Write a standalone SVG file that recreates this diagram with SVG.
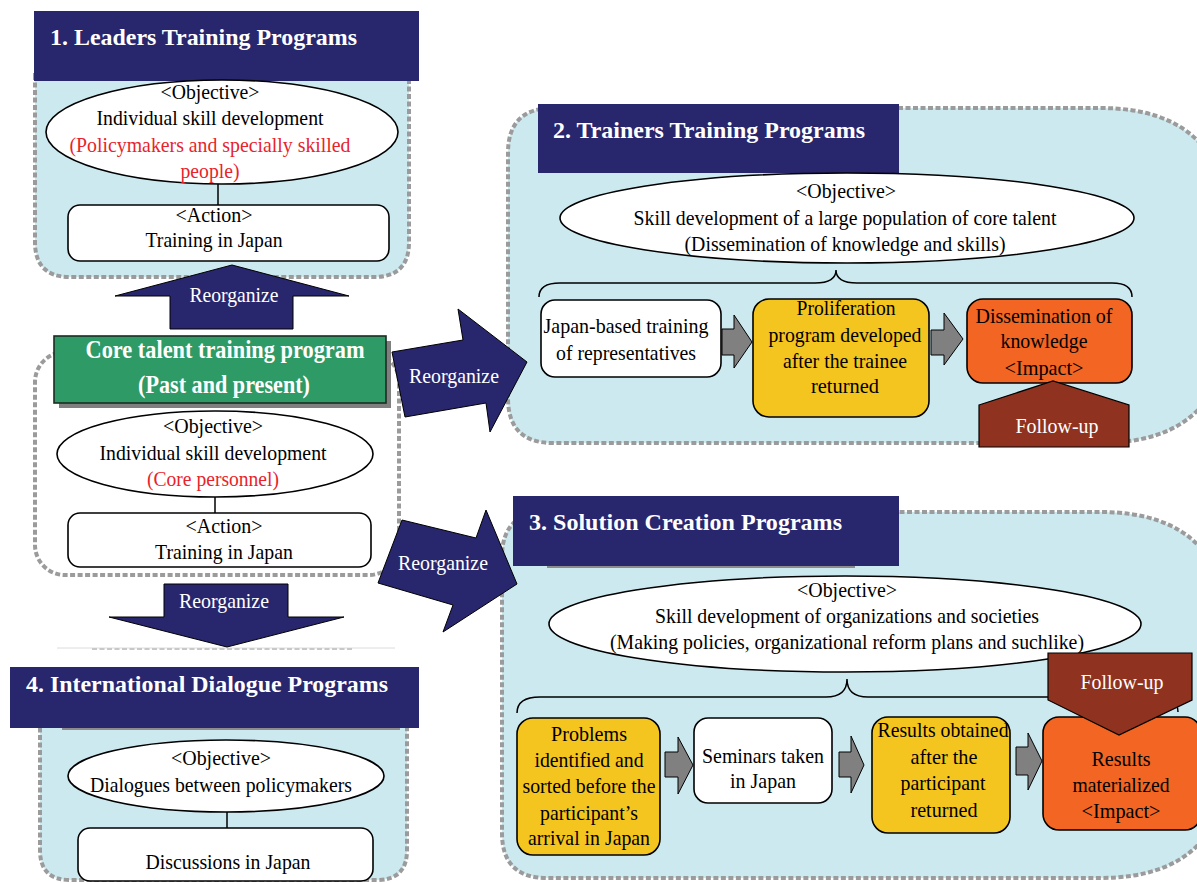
<svg xmlns="http://www.w3.org/2000/svg" width="1197" height="883" viewBox="0 0 1197 883">
<style>
.t{font-family:"Liberation Serif","Times New Roman",serif;font-size:21px;fill:#000;text-anchor:middle}
.red{fill:#e8232b}
.wt{fill:#fff}
.h{font-family:"Liberation Serif","Times New Roman",serif;font-weight:bold;font-size:23px;fill:#fff}
.navy{fill:#28266d}
.panel{fill:#cde9f0;stroke:#9b9b9b;stroke-width:4;stroke-dasharray:5 2.5}
.dash{fill:none;stroke:#9b9b9b;stroke-width:4;stroke-dasharray:5 2.5}
.obj{fill:#fff;stroke:#000;stroke-width:1.6}
.yel{fill:#f5c51f;stroke:#000;stroke-width:1.6}
.org{fill:#f26522;stroke:#000;stroke-width:1.6}
.fu{fill:#8f3220;stroke:#000;stroke-width:1.2}
.ga{fill:#808080;stroke:#000;stroke-width:1}
.ra{fill:#28266d;stroke:#000;stroke-width:1}
.ln{stroke:#000;stroke-width:1.5;fill:none}
</style>

<!-- Panels -->
<g id="panels">
  <path class="panel" d="M35,75 V242 Q35,277 70,277 H374 Q409,277 409,242 V75 Z"/>
  <path class="panel" d="M553,108 H1100 Q1230,108 1230,238 V313 Q1230,443 1100,443 H553 Q508,443 508,398 V153 Q508,108 553,108 Z"/>
  <path class="panel" d="M547,512 H1100 Q1230,512 1230,642 V748 Q1230,878 1100,878 H547 Q502,878 502,833 V557 Q502,512 547,512 Z"/>
  <path class="panel" d="M40,720 V850 Q40,880 70,880 H377 Q407,880 407,850 V720 Z"/>
  <rect class="dash" x="35" y="352" width="364" height="223" rx="30"/>
  <line x1="57" y1="648" x2="395" y2="648" stroke="#dcdcdc" stroke-width="1"/>
  <line x1="92" y1="649" x2="353" y2="649" stroke="#c8c8c8" stroke-width="2" stroke-dasharray="5 2.5"/>
</g>

<!-- 1. Leaders Training Programs -->
<g id="leaders">
  <rect class="navy" x="34" y="11" width="385" height="70"/>
  <text class="h" x="50" y="45" textLength="307" lengthAdjust="spacingAndGlyphs">1. Leaders Training Programs</text>
  <ellipse class="obj" cx="222" cy="132" rx="176" ry="52"/>
  <text class="t" x="210" y="99" textLength="99" lengthAdjust="spacingAndGlyphs">&lt;Objective&gt;</text>
  <text class="t" x="210" y="125" textLength="227" lengthAdjust="spacingAndGlyphs">Individual skill development</text>
  <text class="t red" x="210" y="152" textLength="281" lengthAdjust="spacingAndGlyphs">(Policymakers and specially skilled</text>
  <text class="t red" x="210" y="178" textLength="59" lengthAdjust="spacingAndGlyphs">people)</text>
  <line class="ln" x1="218" y1="184" x2="218" y2="205"/>
  <rect class="obj" x="68" y="205" width="321" height="56" rx="12"/>
  <text class="t" x="214" y="222" textLength="77" lengthAdjust="spacingAndGlyphs">&lt;Action&gt;</text>
  <text class="t" x="214" y="247" textLength="137" lengthAdjust="spacingAndGlyphs">Training in Japan</text>
</g>

<!-- Core talent training program -->
<g id="core">
  <rect x="59" y="341" width="332" height="67" fill="#7f7f7f"/>
  <rect x="54" y="336" width="332" height="67" fill="#2e9a66" stroke="#1c2b22" stroke-width="1.6"/>
  <text class="h" x="225" y="358" text-anchor="middle" style="font-size:26px" textLength="279" lengthAdjust="spacingAndGlyphs">Core talent training program</text>
  <text class="h" x="224" y="393" text-anchor="middle" style="font-size:26px" textLength="172" lengthAdjust="spacingAndGlyphs">(Past and present)</text>
  <ellipse class="obj" cx="215" cy="454" rx="158" ry="43"/>
  <text class="t" x="213" y="433" textLength="100" lengthAdjust="spacingAndGlyphs">&lt;Objective&gt;</text>
  <text class="t" x="213" y="460" textLength="227" lengthAdjust="spacingAndGlyphs">Individual skill development</text>
  <text class="t red" x="213" y="486" textLength="132" lengthAdjust="spacingAndGlyphs">(Core personnel)</text>
  <line class="ln" x1="215" y1="497" x2="215" y2="513"/>
  <rect class="obj" x="68" y="513" width="303" height="54" rx="12"/>
  <text class="t" x="224" y="533" textLength="77" lengthAdjust="spacingAndGlyphs">&lt;Action&gt;</text>
  <text class="t" x="224" y="559" textLength="138" lengthAdjust="spacingAndGlyphs">Training in Japan</text>
</g>

<!-- 2. Trainers Training Programs -->
<g id="trainers">
  <rect class="navy" x="538" y="104" width="361" height="69"/>
  <text class="h" x="553" y="138" textLength="312" lengthAdjust="spacingAndGlyphs">2. Trainers Training Programs</text>
  <ellipse class="obj" cx="847" cy="218" rx="287" ry="45"/>
  <text class="t" x="846" y="198" textLength="100" lengthAdjust="spacingAndGlyphs">&lt;Objective&gt;</text>
  <text class="t" x="845" y="225" textLength="423" lengthAdjust="spacingAndGlyphs">Skill development of a large population of core talent</text>
  <text class="t" x="845" y="251" textLength="321" lengthAdjust="spacingAndGlyphs">(Dissemination of knowledge and skills)</text>
  <path class="ln" d="M539,297 Q539,283 560,283 L815,283 Q836,283 836,270 Q836,283 857,283 L1112,283 Q1132,283 1132,297"/>
  <rect class="obj" x="541" y="300" width="180" height="77" rx="14"/>
  <text class="t" x="626" y="333" textLength="165" lengthAdjust="spacingAndGlyphs">Japan-based training</text>
  <text class="t" x="626" y="360" textLength="140" lengthAdjust="spacingAndGlyphs">of representatives</text>
  <rect class="yel" x="753" y="299" width="176" height="118" rx="16"/>
  <text class="t" x="846" y="315" textLength="99" lengthAdjust="spacingAndGlyphs">Proliferation</text>
  <text class="t" x="845" y="342" textLength="153" lengthAdjust="spacingAndGlyphs">program developed</text>
  <text class="t" x="845" y="368" textLength="124" lengthAdjust="spacingAndGlyphs">after the trainee</text>
  <text class="t" x="845" y="393" textLength="68" lengthAdjust="spacingAndGlyphs">returned</text>
  <rect class="org" x="967" y="299" width="165" height="84" rx="16"/>
  <text class="t" x="1044" y="323" textLength="137" lengthAdjust="spacingAndGlyphs">Dissemination of</text>
  <text class="t" x="1044" y="348" textLength="87" lengthAdjust="spacingAndGlyphs">knowledge</text>
  <text class="t" x="1044" y="375" textLength="79" lengthAdjust="spacingAndGlyphs">&lt;Impact&gt;</text>
  <polygon class="fu" points="979,405 1053,381 1129,405 1129,447 979,447"/>
  <text class="t wt" x="1057" y="433" textLength="83" lengthAdjust="spacingAndGlyphs">Follow-up</text>
</g>

<!-- 3. Solution Creation Programs -->
<g id="solution">
  <rect x="547" y="565" width="308" height="3" fill="#8c8c8c"/>
  <rect class="navy" x="513" y="496" width="386" height="70"/>
  <text class="h" x="529" y="530" textLength="313" lengthAdjust="spacingAndGlyphs">3. Solution Creation Programs</text>
  <ellipse class="obj" cx="845" cy="624" rx="296" ry="48"/>
  <text class="t" x="847" y="597" textLength="100" lengthAdjust="spacingAndGlyphs">&lt;Objective&gt;</text>
  <text class="t" x="847" y="623" textLength="384" lengthAdjust="spacingAndGlyphs">Skill development of organizations and societies</text>
  <text class="t" x="847" y="649" textLength="474" lengthAdjust="spacingAndGlyphs">(Making policies, organizational reform plans and suchlike)</text>
  <path class="ln" d="M517,713 Q517,697 540,697 L826,697 Q847,697 847,679 Q847,697 868,697 L1155,697 Q1178,697 1178,712"/>
  <rect class="yel" x="517" y="718" width="143" height="137" rx="16"/>
  <text class="t" x="589" y="741" textLength="76" lengthAdjust="spacingAndGlyphs">Problems</text>
  <text class="t" x="589" y="767" textLength="109" lengthAdjust="spacingAndGlyphs">identified and</text>
  <text class="t" x="589" y="793" textLength="133" lengthAdjust="spacingAndGlyphs">sorted before the</text>
  <text class="t" x="589" y="820" textLength="98" lengthAdjust="spacingAndGlyphs">participant’s</text>
  <text class="t" x="589" y="845" textLength="122" lengthAdjust="spacingAndGlyphs">arrival in Japan</text>
  <rect class="obj" x="694" y="718" width="138" height="85" rx="14"/>
  <text class="t" x="763" y="763" textLength="122" lengthAdjust="spacingAndGlyphs">Seminars taken</text>
  <text class="t" x="763" y="788" textLength="66" lengthAdjust="spacingAndGlyphs">in Japan</text>
  <rect class="yel" x="872" y="717" width="138" height="116" rx="16"/>
  <text class="t" x="943" y="737" textLength="131" lengthAdjust="spacingAndGlyphs">Results obtained</text>
  <text class="t" x="944" y="764" textLength="67" lengthAdjust="spacingAndGlyphs">after the</text>
  <text class="t" x="943" y="790" textLength="85" lengthAdjust="spacingAndGlyphs">participant</text>
  <text class="t" x="944" y="817" textLength="67" lengthAdjust="spacingAndGlyphs">returned</text>
  <rect class="org" x="1043" y="717" width="158" height="113" rx="16"/>
  <text class="t" x="1121" y="766" textLength="59" lengthAdjust="spacingAndGlyphs">Results</text>
  <text class="t" x="1121" y="792" textLength="97" lengthAdjust="spacingAndGlyphs">materialized</text>
  <text class="t" x="1121" y="818" textLength="79" lengthAdjust="spacingAndGlyphs">&lt;Impact&gt;</text>
  <polygon class="fu" points="1048,653 1192,653 1192,700 1119,735 1048,700"/>
  <text class="t wt" x="1122" y="689" textLength="83" lengthAdjust="spacingAndGlyphs">Follow-up</text>
</g>

<!-- 4. International Dialogue Programs -->
<g id="dialogue">
  <rect x="62" y="727" width="338" height="3" fill="#8c8c8c"/>
  <rect class="navy" x="10" y="667" width="409" height="61"/>
  <text class="h" x="26" y="692" textLength="362" lengthAdjust="spacingAndGlyphs">4. International Dialogue Programs</text>
  <ellipse class="obj" cx="226" cy="776" rx="158" ry="36"/>
  <text class="t" x="221" y="765" textLength="100" lengthAdjust="spacingAndGlyphs">&lt;Objective&gt;</text>
  <text class="t" x="221" y="792" textLength="262" lengthAdjust="spacingAndGlyphs">Dialogues between policymakers</text>
  <line class="ln" x1="227" y1="812" x2="227" y2="828"/>
  <rect class="obj" x="78" y="828" width="295" height="53" rx="12"/>
  <text class="t" x="228" y="869" textLength="165" lengthAdjust="spacingAndGlyphs">Discussions in Japan</text>
</g>

<!-- Connectors -->
<g id="connectors">
  <polygon class="ga" points="722,329 734,329 734,315 752,342 734,368 734,355 722,355"/>
  <polygon class="ga" points="931,330 944,330 944,313 963,339 944,365 944,355 931,355"/>
  <polygon class="ga" points="665,752 678,752 678,737 693,765 678,794 678,777 665,777"/>
  <polygon class="ga" points="839,752 851,752 851,736 864,765 851,793 851,777 839,777"/>
  <polygon class="ga" points="1016,747 1028,747 1028,733 1042,761 1028,790 1028,775 1016,775"/>

  <polygon class="ra" points="170,329 170,296 115,296 232,265 349,296 293,296 293,329"/>
  <text class="t wt" x="234" y="302" textLength="89" lengthAdjust="spacingAndGlyphs">Reorganize</text>
  <polygon class="ra" points="164,584 288,584 288,617 344,617 227,647 109,617 164,617"/>
  <text class="t wt" x="224" y="608" textLength="90" lengthAdjust="spacingAndGlyphs">Reorganize</text>
  <polygon class="ra" points="392,352 463,340 458,309 527,362 490,432 486,403 405,417"/>
  <text class="t wt" x="454" y="383" textLength="90" lengthAdjust="spacingAndGlyphs">Reorganize</text>
  <polygon class="ra" points="402,520 476,538 486,510 517,584 443,632 453,605 378,583"/>
  <text class="t wt" x="443" y="570" textLength="90" lengthAdjust="spacingAndGlyphs">Reorganize</text>
</g>
</svg>
